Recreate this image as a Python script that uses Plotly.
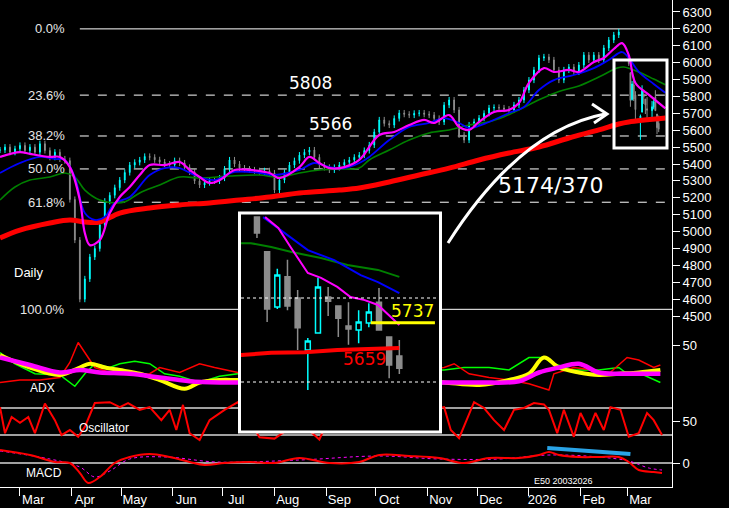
import pandas as pd
import plotly.graph_objects as go

BASE = pd.Timestamp("2025-02-17")

# ---- main price closes, one every 3 calendar days from BASE ----
closes = [5483,5500,5470,5490,5510,5480,5500,5470,5520,5480,5440,5470,5430,5420,5190,4950,4600,4720,4850,4900,
          5040,5180,5215,5260,5305,5350,5394,5410,5424,5445,5440,5425,5412,5400,5394,5420,5406,5380,5353,5300,
          5276,5290,5305,5300,5317,5370,5424,5400,5376,5370,5365,5360,5353,5360,5347,5246,5305,5350,5394,5420,
          5453,5470,5483,5440,5394,5380,5365,5380,5394,5410,5424,5440,5453,5480,5513,5590,5661,5640,5631,5670,
          5702,5695,5690,5700,5702,5695,5690,5670,5649,5749,5779,5720,5572,5542,5631,5650,5672,5700,5732,5735,
          5732,5725,5720,5750,5779,5838,5897,5957,6028,6034,6016,5957,5897,5957,5974,5945,5986,6045,6016,6045,
          6016,6087,6134,6164,6182]
WICK = 18

# ---- last 15 daily candles (also shown in the inset) ----
ins_open  = [6041,5941,5782,5869,5808,5658,5707,5811,5785,5727,5716,5736,5796,5696,5641]
ins_close = [5995,5776,5874,5785,5722,5684,5840,5799,5750,5719,5739,5768,5716,5615,5606]
ins_high  = [6041,5941,5892,5918,5831,5693,5866,5840,5785,5796,5773,5793,5837,5696,5687]
ins_low   = [5981,5739,5776,5773,5658,5543,5707,5756,5696,5673,5678,5724,5716,5577,5589]

# ---- moving averages (day offsets from BASE) ----
mag_d = [0,12,18,30,36,42,48,51,54,60,66,72,78,84,90,99,108,114,120,126,132,141,150,162,168,180,186,192,198,207,
         216,228,237,246,255,261,270,276,282,288,297,306,312,318,327,333,342,348,357,363,369,374,378,382,390,400]
mag_v = [5442,5471,5460,5442,5442,5382,5187,4992,4920,4950,5110,5205,5264,5335,5394,5394,5412,5365,5323,5288,
         5305,5365,5365,5347,5317,5382,5442,5406,5376,5382,5424,5572,5590,5631,5661,5643,5690,5620,5602,5649,
         5708,5720,5761,5880,5968,5945,5957,5945,6004,6028,6081,6116,6045,5880,5811,5730]
blu_d = [0,12,24,33,39,45,51,57,63,69,78,90,99,108,117,129,141,156,165,180,189,198,207,216,222,234,246,258,267,276,
         282,294,306,315,324,333,345,357,366,374,378,384,393,400]
blu_v = [5347,5406,5442,5430,5424,5323,5110,5069,5087,5170,5205,5335,5376,5376,5335,5305,5353,5347,5335,5365,
         5406,5382,5376,5406,5442,5542,5620,5643,5672,5643,5613,5649,5702,5738,5838,5897,5927,5968,6016,6063,
         6028,5946,5874,5822]
grn_d = [0,9,18,30,39,45,51,60,69,75,84,96,108,120,138,156,168,180,192,204,216,222,234,246,258,270,282,294,303,312,
         324,336,348,360,371,375,384,393,400]
grn_v = [5187,5264,5305,5323,5347,5323,5246,5187,5170,5176,5229,5276,5323,5317,5329,5335,5323,5347,5365,5371,
         5376,5424,5483,5542,5584,5602,5631,5650,5680,5720,5780,5830,5862,5915,5968,5974,5945,5903,5869]
red_d = [0,12,30,42,51,60,72,90,108,126,144,162,180,204,216,234,252,270,288,306,324,342,360,372,378,400]
red_v = [4962,5009,5051,5069,5057,5057,5110,5140,5158,5170,5187,5205,5229,5246,5258,5294,5335,5376,5424,5465,
         5501,5554,5602,5637,5649,5672]

# ---- inset moving averages (candle index) ----
iblu_i = [1.6,6,8.6,11.2,12.9,15]; iblu_v = [6041,5946,5917,5874,5854,5822]
igrn_i = [-0.6,0.4,2.4,4.3,7.3,9.9,12.9,15]; igrn_v = [5966,5966,5955,5941,5923,5903,5889,5869]
imag_i = [1.8,3.1,4.3,6,7.3,8.9,10.2,11.6,12.9,15]
imag_v = [6041,6010,5955,5880,5866,5840,5811,5802,5788,5730]
ired_i = [-0.6,2.4,5.7,8.9,15]; ired_v = [5644,5650,5652,5658,5664]

# ---- ADX panel ----
adr_d = [0,12,24,36,42,47,51,57,66,78,90,96,108,120,129,143,168,198,228,252,267,273,282,294,306,318,330,333,345,357,366,377,384,393,397]
adr_v = [20,22,22,24,36,52,44,32,28,26,27,32,28,35,32,28,30,28,32,30,32,35,27,24,22,19,14,27,32,30,27,40,38,32,34]
adg_d = [0,9,21,36,45,51,57,66,72,81,90,99,108,120,132,143,168,198,228,252,267,279,294,306,318,327,333,345,360,372,378,387,397]
adg_v = [44,35,27,26,17,27,35,32,35,37,35,27,25,20,25,27,30,32,28,30,30,32,32,30,40,40,35,30,30,32,26,26,20]
ady_d = [0,18,36,48,54,63,72,84,96,111,120,132,143,168,198,228,252,267,288,306,318,327,336,348,360,372,384,397]
ady_v = [42,32,26,32,35,32,30,27,22,15,20,22,22,22,24,22,21,20,18,22,27,40,32,28,26,27,28,30]
adm_d = [0,18,36,48,60,78,96,114,132,143,168,198,228,252,267,288,312,324,336,348,360,372,384,397]
adm_v = [40,34,28,30,28,27,24,21,20,20,21,22,21,20,20,20,21,28,32,35,28,27,27,27]

# ---- Oscillator ----
osc_d = [0,3,7,12,17,21,27,33,37,42,47,51,57,66,72,77,84,90,97,102,106,110,114,120,126,135,143,
         156,165,180,192,198,228,252,264,
         267,271,276,285,291,297,303,309,315,321,327,330,335,339,345,349,354,358,363,367,373,378,384,389,393,398]
osc_v = [82,24,60,47,60,24,90,53,20,31,16,38,91,93,82,91,76,82,53,76,31,87,24,9,53,76,93,
         15,12,50,10,60,40,70,80,
         82,31,13,93,80,53,31,76,80,91,88,76,24,76,16,69,31,69,31,82,76,16,24,69,53,20]

# ---- MACD ----
mac_d = [0,18,33,42,48,53,60,69,78,90,102,114,123,135,150,165,180,198,216,228,246,264,279,294,312,324,330,336,348,360,372,378,384,393,398]
mac_v = [13,8,1,0,-10,-20,-14,0,6,9,6,1,-2,0,1,0,5,0,1,8,7,5,0,5,5,8,11,8,6,6,6,1,-7,-9,-10]
sig_d = [0,30,48,57,66,78,100,130,180,228,264,300,330,360,378,390,398]
sig_v = [12,4,-4,-14,-8,4,6,1,3,7,4,4,8,6,2,-5,-7]
div_d = [329,379]; div_v = [15,9]

fib_lbl = ["0.0%","23.6%","38.2%","50.0%","61.8%","100.0%"]
fib_val = [6200,5808,5566,5371,5174,4540]
months = ["Mar","Apr","May","Jun","Jul","Aug","Sep","Oct","Nov","Dec","2026","Feb","Mar"]

def D(days):
    return [BASE + pd.Timedelta(days=float(d)) for d in days]

m_dates = list(pd.date_range(BASE, periods=len(closes), freq="3D"))
m_open = [closes[0]] + closes[:-1]
m_high = [max(o, c) + WICK for o, c in zip(m_open, closes)]
m_low = [min(o, c) - WICK for o, c in zip(m_open, closes)]
i_dates = list(pd.bdate_range(end="2026-03-20", periods=len(ins_close)))
all_x = m_dates + i_dates
all_o = m_open + ins_open
all_c = closes + ins_close
all_h = m_high + ins_high
all_l = m_low + ins_low

H = 487.0; W = 672.0
def py(p): return 1 - p / H
def px(p): return p / W

fig = go.Figure()
fig.add_trace(go.Candlestick(x=all_x, open=all_o, high=all_h, low=all_l, close=all_c,
    increasing=dict(line=dict(color="#00ffff", width=1), fillcolor="#00ffff"),
    decreasing=dict(line=dict(color="#8c8c8c", width=1), fillcolor="#8c8c8c"),
    xaxis="x", yaxis="y", hoverinfo="skip"))
fig.add_trace(go.Scatter(x=D(red_d), y=red_v, mode="lines", line=dict(color="#ff0000", width=5, shape="spline"), xaxis="x", yaxis="y"))
fig.add_trace(go.Scatter(x=D(grn_d), y=grn_v, mode="lines", line=dict(color="#008000", width=1.6, shape="spline"), xaxis="x", yaxis="y"))
fig.add_trace(go.Scatter(x=D(blu_d), y=blu_v, mode="lines", line=dict(color="#0000ff", width=1.8, shape="spline"), xaxis="x", yaxis="y"))
fig.add_trace(go.Scatter(x=D(mag_d), y=mag_v, mode="lines", line=dict(color="#ff00ff", width=2.2, shape="spline"), xaxis="x", yaxis="y"))

fig.add_trace(go.Scatter(x=D(adg_d), y=adg_v, mode="lines", line=dict(color="#00ff00", width=1.5), xaxis="x", yaxis="y2"))
fig.add_trace(go.Scatter(x=D(adr_d), y=adr_v, mode="lines", line=dict(color="#ff0000", width=1.5), xaxis="x", yaxis="y2"))
fig.add_trace(go.Scatter(x=D(ady_d), y=ady_v, mode="lines", line=dict(color="#ffff00", width=4, shape="spline"), xaxis="x", yaxis="y2"))
fig.add_trace(go.Scatter(x=D(adm_d), y=adm_v, mode="lines", line=dict(color="#ff00ff", width=4.5, shape="spline"), xaxis="x", yaxis="y2"))
fig.add_trace(go.Scatter(x=D(osc_d), y=osc_v, mode="lines", line=dict(color="#ff0000", width=2), xaxis="x", yaxis="y3"))
fig.add_trace(go.Scatter(x=D(sig_d), y=sig_v, mode="lines", line=dict(color="#ff00ff", width=1, dash="dot", shape="spline"), xaxis="x", yaxis="y4"))
fig.add_trace(go.Scatter(x=D(mac_d), y=mac_v, mode="lines", line=dict(color="#ff0000", width=2, shape="spline"), xaxis="x", yaxis="y4"))
fig.add_trace(go.Scatter(x=D(div_d), y=div_v, mode="lines", line=dict(color="#29a3e6", width=4), xaxis="x", yaxis="y4"))

idx = list(range(1, len(ins_close) + 1))
fig.add_trace(go.Candlestick(x=idx, open=ins_open, high=ins_high, low=ins_low, close=ins_close,
    increasing=dict(line=dict(color="#00ffff", width=1.5), fillcolor="#000000"),
    decreasing=dict(line=dict(color="#8c8c8c", width=1.5), fillcolor="#8c8c8c"),
    whiskerwidth=0, xaxis="x2", yaxis="y5", hoverinfo="skip"))
fig.add_trace(go.Scatter(x=igrn_i, y=igrn_v, mode="lines", line=dict(color="#008000", width=2), xaxis="x2", yaxis="y5"))
fig.add_trace(go.Scatter(x=iblu_i, y=iblu_v, mode="lines", line=dict(color="#0000ff", width=2), xaxis="x2", yaxis="y5"))
fig.add_trace(go.Scatter(x=imag_i, y=imag_v, mode="lines", line=dict(color="#ff00ff", width=2), xaxis="x2", yaxis="y5"))
fig.add_trace(go.Scatter(x=ired_i, y=ired_v, mode="lines", line=dict(color="#ff0000", width=4), xaxis="x2", yaxis="y5"))

shapes = []
fib_start = BASE + pd.Timedelta(days=48)
fib_end = BASE + pd.Timedelta(days=404)
for lbl, v in zip(fib_lbl, fib_val):
    solid = lbl in ("0.0%", "100.0%")
    shapes.append(dict(type="line", xref="x", yref="y", x0=fib_start, x1=fib_end, y0=v, y1=v, layer="below",
                       line=dict(color="#ffffff", width=1, dash="solid" if solid else "dash")))
for yv, ya in [(80, "y3"), (20, "y3"), (0, "y4")]:
    shapes.append(dict(type="line", xref="paper", yref=ya, x0=0, x1=1, y0=yv, y1=yv, layer="below",
                       line=dict(color="#a0a0a0", width=2)))
for v in (5808, 5566):
    shapes.append(dict(type="line", xref="x2 domain", yref="y5", x0=0, x1=1, y0=v, y1=v,
                       line=dict(color="#ffffff", width=1, dash="dot")))
shapes.append(dict(type="line", xref="x2", yref="y5", x0=12.2, x1=18.5, y0=5737, y1=5737,
                   line=dict(color="#ffff00", width=3)))
shapes.append(dict(type="rect", xref="paper", yref="paper", x0=px(239.5), x1=px(440.5), y0=py(432), y1=py(213),
                   line=dict(color="#ffffff", width=3)))
shapes.append(dict(type="rect", xref="paper", yref="paper", x0=px(614), x1=px(667), y0=py(148), y1=py(60),
                   line=dict(color="#ffffff", width=3)))
shapes.append(dict(type="path", xref="paper", yref="paper",
                   path=f"M {px(448)},{py(243)} Q {px(520)},{py(130)} {px(605)},{py(114)}",
                   line=dict(color="#ffffff", width=3)))
shapes.append(dict(type="path", xref="paper", yref="paper",
                   path=f"M {px(592)},{py(104)} L {px(607)},{py(114)} L {px(594)},{py(123)}",
                   line=dict(color="#ffffff", width=3)))

ann = []
F = "Liberation Sans, Arial"
for lbl, v in zip(fib_lbl, fib_val):
    ann.append(dict(text=lbl, xref="paper", yref="y", x=px(67), y=v, xanchor="right", yanchor="middle",
                    showarrow=False, font=dict(color="#e6e6e6", size=13, family=F)))
ann += [
    dict(text="5808", xref="paper", yref="y", x=px(310), y=5808, yanchor="bottom", showarrow=False,
         font=dict(color="#ffffff", size=17, family="DejaVu Sans")),
    dict(text="5566", xref="paper", yref="y", x=px(330), y=5566, yanchor="bottom", showarrow=False,
         font=dict(color="#ffffff", size=17, family="DejaVu Sans")),
    dict(text="5174/370", xref="paper", yref="paper", x=px(605), y=py(185), showarrow=False,
         font=dict(color="#ffffff", size=22, family="DejaVu Sans")),
    dict(text="Daily", xref="paper", yref="paper", x=px(12), y=py(272), xanchor="left", showarrow=False,
         font=dict(color="#ffffff", size=13, family=F)),
    dict(text="ADX", xref="paper", yref="paper", x=px(28), y=py(397), xanchor="left", showarrow=False,
         font=dict(color="#ffffff", size=12, family=F)),
    dict(text="Oscillator", xref="paper", yref="paper", x=px(77), y=py(437), xanchor="left", showarrow=False,
         font=dict(color="#ffffff", size=12, family=F)),
    dict(text="MACD", xref="paper", yref="paper", x=px(24), y=py(482), xanchor="left", showarrow=False,
         font=dict(color="#ffffff", size=12, family=F)),
    dict(text="E50 20032026", xref="paper", yref="paper", x=px(532), y=py(488), xanchor="left", showarrow=False,
         font=dict(color="#ffffff", size=9, family=F)),
    dict(text="5737", xref="x2", yref="y5", x=16.3, y=5737, yanchor="bottom", showarrow=False,
         font=dict(color="#ffff00", size=17, family="DejaVu Sans")),
    dict(text="5659", xref="x2", yref="y5", x=11.6, y=5632, showarrow=False,
         font=dict(color="#ff0000", size=17, family="DejaVu Sans")),
]

mstart = pd.date_range("2025-03-01", periods=len(months), freq="MS")
tickpos = [m + pd.Timedelta(days=8) for m in mstart]

yax_common = dict(side="right", anchor="x", showgrid=False, zeroline=False, ticks="outside", ticklen=7,
                  tickcolor="#ffffff", tickfont=dict(color="#ffffff", size=13, family=F), showline=True,
                  linecolor="#ffffff", linewidth=1)

fig.update_layout(
    width=729, height=508, paper_bgcolor="#000000", plot_bgcolor="#000000",
    margin=dict(l=0, r=57, t=0, b=21), showlegend=False, shapes=shapes, annotations=ann,
    xaxis=dict(type="date", range=[BASE, fib_end], anchor="y4", rangeslider=dict(visible=False),
               tickvals=tickpos, ticktext=months, ticks="", showgrid=False, zeroline=False,
               tickfont=dict(color="#ffffff", size=13, family=F), showline=True, linecolor="#ffffff",
               minor=dict(ticks="outside", tickcolor="#ffffff", ticklen=8, dtick="M1", tick0="2025-01-01", showgrid=False)),
    yaxis=dict(domain=[py(335), 1], range=[4388, 6371], tickvals=list(range(4500, 6301, 100)), **yax_common),
    yaxis2=dict(domain=[py(400), py(335)], range=[6, 58], tickvals=[50], **yax_common),
    yaxis3=dict(domain=[py(445), py(400)], range=[-2.2, 97.8], tickvals=[50], **yax_common),
    yaxis4=dict(domain=[0, py(445)], range=[-24, 18], tickvals=[0], **yax_common),
    xaxis2=dict(domain=[px(241), px(440)], range=[-0.57, 19.0], anchor="y5", visible=False, rangeslider=dict(visible=False)),
    yaxis5=dict(domain=[py(432), py(214)], range=[5422, 6050], anchor="x2", visible=False),
)
fig.write_html("out.html", config={"displayModeBar": False},
               post_script="document.body.style.margin='0';document.body.style.overflow='hidden';")
